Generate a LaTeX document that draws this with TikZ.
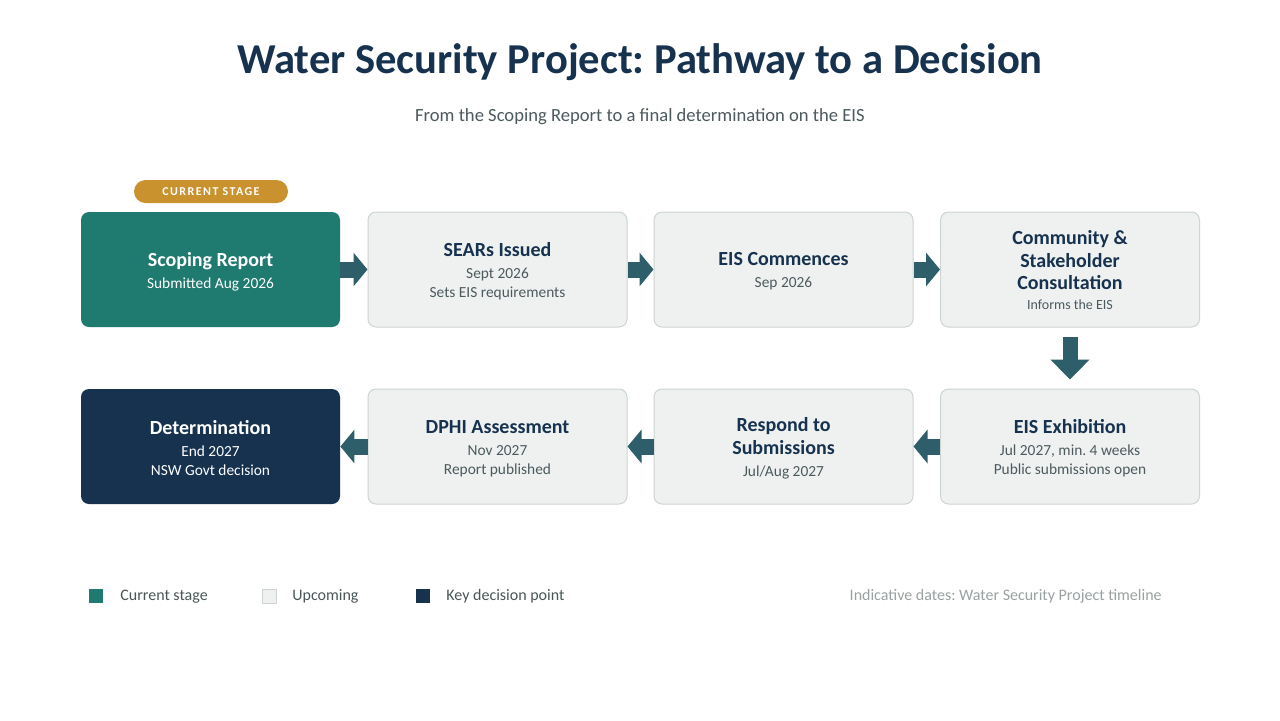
\documentclass[tikz,border=0pt]{standalone}
\usepackage{fontspec}
\setmainfont{Carlito}
\usetikzlibrary{arrows.meta}
\frenchspacing
\definecolor{teal}{HTML}{1F7A70}
\definecolor{navy}{HTML}{17324F}
\definecolor{lightfill}{HTML}{EEF1F0}
\definecolor{lightline}{HTML}{CDD4D2}
\definecolor{gold}{HTML}{C9922E}
\definecolor{arrowcol}{HTML}{2D5E69}
\definecolor{subgray}{HTML}{4C5A5E}
\definecolor{legendgray}{HTML}{4A5558}
\definecolor{notegray}{HTML}{9AA1A1}
\newcommand{\bt}[1]{{\fontsize{10}{11.25}\selectfont\bfseries #1\par}}
\newcommand{\bsub}[1]{{\fontsize{7.7}{11}\selectfont #1\par}\vspace{-2pt}}
\tikzset{
  stagebox/.style={rounded corners=4pt, minimum width=129.5pt, minimum height=57.5pt,
    text width=125pt, align=flush center, inner sep=0pt},
  currentbox/.style={stagebox, fill=teal, text=white},
  upcomingbox/.style={stagebox, fill=lightfill, draw=lightline, line width=0.5pt, text=navy},
  decisionbox/.style={stagebox, fill=navy, text=white},
  flowarrow/.style={draw=arrowcol, line width=8pt, -{Triangle[length=7pt,width=16.5pt]}},
  downarrow/.style={draw=arrowcol, line width=7.5pt, -{Triangle[length=10pt,width=19pt]}, shorten >=4.5pt, shorten <=4.5pt},
  legsq/.style={minimum size=7pt, inner sep=0pt},
  legtext/.style={anchor=west, text=legendgray, font=\fontsize{8}{9}\selectfont, inner sep=0pt, text height=5.6pt, text depth=1.6pt},
}
\begin{document}
\begin{tikzpicture}[x=0.5pt, y=-0.5pt]
\useasboundingbox (0,0) rectangle (1280,720);
\fill[white] (0,0) rectangle (1280,720);

\node[text=navy, font=\fontsize{21.3}{25}\selectfont\bfseries] (title) at (640,62) {Water Security Project: Pathway to a Decision};
\node[text=subgray, font=\fontsize{9.3}{11}\selectfont] (subtitle) at (640,117) {From the Scoping Report to a final determination on the EIS};

\node[fill=gold, rounded corners=5.75pt, minimum width=77pt, minimum height=11.5pt, inner sep=0pt,
  text=white, font=\fontsize{6}{7}\selectfont\bfseries\addfontfeature{LetterSpace=12}] (badge) at (211,191.5) {CURRENT STAGE};

% row 1
\node[currentbox] (b1) at (210.5,269.5) {\bt{Scoping Report}\bsub{Submitted Aug 2026}};
\node[upcomingbox] (b2) at (497.5,269.5) {\bt{SEARs Issued}{\color{subgray}\bsub{Sept 2026\\[-1.5pt]Sets EIS requirements}}};
\node[upcomingbox] (b3) at (783.5,269.5) {\bt{EIS Commences}{\color{subgray}\bsub{Sep 2026}}};
\node[upcomingbox] (b4) at (1070,269.5) {\bt{Community \&\\Stakeholder\\Consultation}{\color{subgray}\fontsize{7}{10}\selectfont Informs the EIS\par}\vspace{-1pt}};

% row 2
\node[upcomingbox] (b5) at (1070,446.5) {\bt{EIS Exhibition}{\color{subgray}\bsub{Jul 2027, min. 4 weeks\\[-1.5pt]Public submissions open}}};
\node[upcomingbox] (b6) at (783.5,446.5) {\bt{Respond to\\Submissions}{\color{subgray}\bsub{Jul/Aug 2027}}};
\node[upcomingbox] (b7) at (497.5,446.5) {\bt{DPHI Assessment}{\color{subgray}\bsub{Nov 2027\\[-1.5pt]Report published}}};
\node[decisionbox] (b8) at (210.5,446.5) {\bt{Determination}\bsub{End 2027\\[-1.5pt]NSW Govt decision}};

% arrows
\draw[flowarrow] (b1.east) -- (b2.west);
\draw[flowarrow] (b2.east) -- (b3.west);
\draw[flowarrow] (b3.east) -- (b4.west);
\draw[downarrow] (b4.south) -- (b5.north);
\draw[flowarrow] (b5.west) -- (b6.east);
\draw[flowarrow] (b6.west) -- (b7.east);
\draw[flowarrow] (b7.west) -- (b8.east);

% legend
\node[legsq, fill=teal] (l1) at (96,596) {};
\node[legtext] (l1t) at (120,596) {Current stage};
\node[legsq, fill=lightfill, draw=lightline, line width=0.5pt] (l2) at (269,596) {};
\node[legtext] (l2t) at (292,596) {Upcoming};
\node[legsq, fill=navy] (l3) at (422.5,596) {};
\node[legtext] (l3t) at (446,596) {Key decision point};
\node[anchor=east, text=notegray, font=\fontsize{8}{9}\selectfont, inner sep=0pt, text height=5.6pt, text depth=1.6pt] (note) at (1162,596) {Indicative dates: Water Security Project timeline};
\end{tikzpicture}
\end{document}
